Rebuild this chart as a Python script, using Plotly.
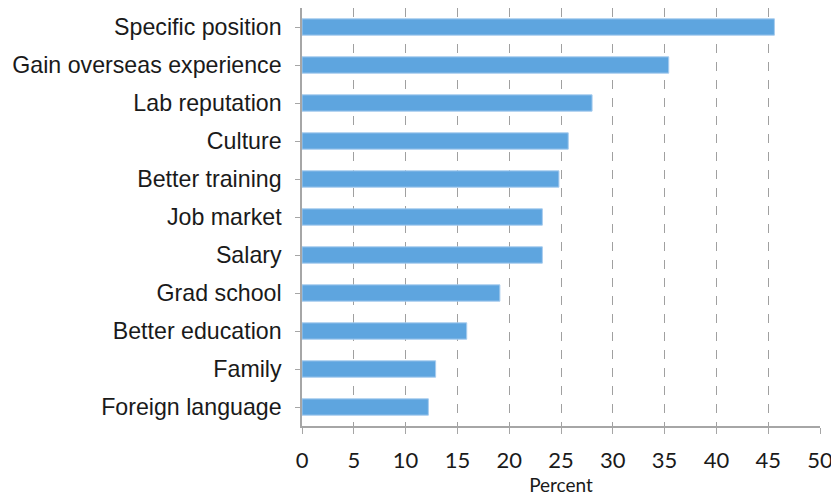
import plotly.graph_objects as go

categories = [
    "Specific position",
    "Gain overseas experience",
    "Lab reputation",
    "Culture",
    "Better training",
    "Job market",
    "Salary",
    "Grad school",
    "Better education",
    "Family",
    "Foreign language",
]
percent = [45.6, 35.4, 28.0, 25.7, 24.8, 23.2, 23.2, 19.1, 15.9, 12.9, 12.2]
x_ticks = list(range(0, 55, 5))

BAR_COLOR = "#5EA5DF"
AXIS_COLOR = "#A6A6A6"

fig = go.Figure()
fig.add_trace(
    go.Bar(
        x=percent,
        y=categories,
        orientation="h",
        marker=dict(color=BAR_COLOR, line=dict(color="#A8CCEE", width=1)),
        width=0.43,
    )
)

# page body adds an 8px margin, so the figure is a bit smaller than the window
fig.update_layout(
    width=831,
    height=490,
    margin=dict(l=294, r=19, t=0, b=72),
    plot_bgcolor="white",
    paper_bgcolor="white",
    showlegend=False,
    font=dict(family="Liberation Sans, Arial, sans-serif", color="#1a1a1a"),
)
fig.update_yaxes(
    categoryorder="array",
    categoryarray=categories[::-1],
    automargin=False,
    showline=True,
    linecolor=AXIS_COLOR,
    linewidth=1.5,
    ticks="outside",
    ticklen=5,
    tickcolor=AXIS_COLOR,
    tickfont=dict(size=23.2),
    ticklabelstandoff=9,
    showgrid=False,
)
fig.update_xaxes(
    range=[0, 50],
    tickvals=x_ticks,
    automargin=False,
    showline=True,
    linecolor=AXIS_COLOR,
    linewidth=1.5,
    ticks="outside",
    ticklen=6,
    tickcolor=AXIS_COLOR,
    tickfont=dict(size=22, family="Lato, Open Sans, sans-serif"),
    ticklabelstandoff=8,
    showgrid=True,
    gridcolor="#A0A0A0",
    griddash="dash",
    gridwidth=1,
    zeroline=False,
    title=dict(text="Percent", font=dict(size=19, family="Lato, Open Sans, sans-serif"), standoff=4),
)

fig.write_html("out.html")
